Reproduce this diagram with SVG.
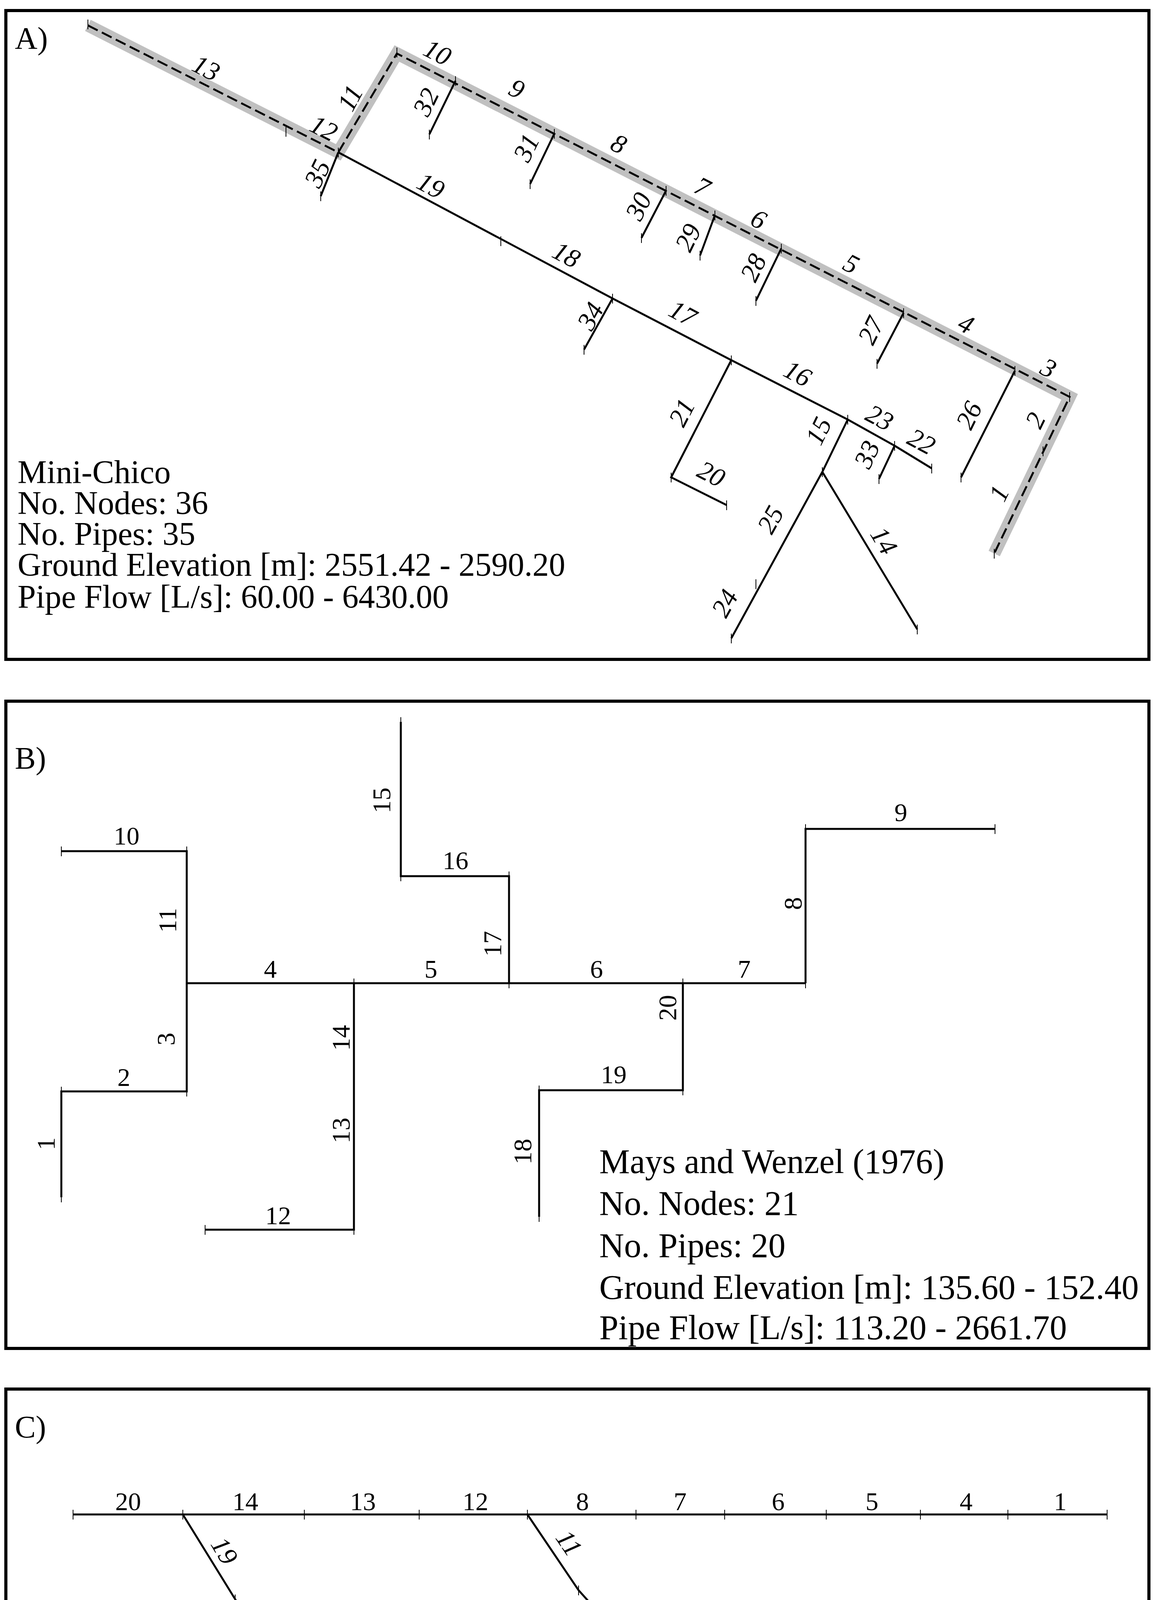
<svg xmlns="http://www.w3.org/2000/svg" width="2954" height="5242" viewBox="0 0 2954 5242">
<style>
.frame{fill:none;stroke:#000;stroke-width:8}
.p{fill:none;stroke:#000;stroke-width:5;stroke-linejoin:miter}
.hl{fill:none;stroke:#c0c0c0;stroke-width:32;stroke-linejoin:miter}
.d{fill:none;stroke:#000;stroke-width:5;stroke-dasharray:28 12}
.t{stroke:#000;stroke-width:2}
text{font-family:"Liberation Serif","Times New Roman",serif;fill:#000}
.l{font-size:68px;font-style:italic;text-anchor:middle;dominant-baseline:central}
.u{font-size:66px;text-anchor:middle;dominant-baseline:central}
.info{font-size:84px}
.hdr{font-size:80px}
</style>
<rect width="2954" height="5242" fill="#fff"/>
<rect class="frame" x="15" y="27" width="2926" height="1661"/>
<rect class="frame" x="15" y="1795" width="2926" height="1657"/>
<rect class="frame" x="15" y="3556" width="2926" height="1658"/>

<g id="connectors">
<polyline class="hl" points="225,65 866,390 1016,137 2738,1016 2545,1417"/>
<polyline class="d" points="225,65 866,390 1016,137 2738,1016 2545,1417"/>
<polyline class="p" points="866,390 1568,764 1872,922 2170,1074 2290,1141 2385,1199"/>
<line class="p" x1="1166" y1="207" x2="1099" y2="344"/>
<line class="p" x1="1419" y1="342" x2="1357" y2="471"/>
<line class="p" x1="866" y1="390" x2="821" y2="502"/>
<line class="p" x1="1705" y1="488" x2="1642" y2="609"/>
<line class="p" x1="1830" y1="551" x2="1792" y2="654"/>
<line class="p" x1="2000" y1="636" x2="1935" y2="770"/>
<line class="p" x1="2313" y1="801" x2="2245" y2="931"/>
<line class="p" x1="2598" y1="949" x2="2460" y2="1222"/>
<line class="p" x1="1568" y1="764" x2="1495" y2="895"/>
<polyline class="p" points="1872,922 1718,1222 1860,1293"/>
<line class="p" x1="2290" y1="1141" x2="2250" y2="1226"/>
<polyline class="p" points="2170,1074 2105,1208 1872,1634"/>
<line class="p" x1="2105" y1="1208" x2="2348" y2="1611"/>
<line class="p" x1="478" y1="2517" x2="2062" y2="2517"/>
<polyline class="p" points="157,2179 478,2179 478,2794 157,2794 157,3065"/>
<polyline class="p" points="906,2517 906,3148 525,3148"/>
<polyline class="p" points="1303,2517 1303,2243 1026,2243 1026,1848"/>
<polyline class="p" points="1748,2517 1748,2791 1380,2791 1380,3115"/>
<polyline class="p" points="2062,2517 2062,2122 2547,2122"/>
<line class="p" x1="187" y1="3877" x2="2834" y2="3877"/>
<polyline class="p" points="1350,3877 1481,4071 1634,4241 1935,4365 2243,4512"/>
<polyline class="p" points="468,3877 602,4094 739,4314 892,4575 1233,4772 1594,4936 1975,5107"/>
<path class="t" d="M225,50v25M732,325v25M866,378v25M1016,122v25M1166,195v25M1099,332v25M1419,330v25M1357,459v25M821,490v25M1282,605v25M1705,476v25M1642,597v25M1830,539v25M1792,642v25M2000,624v25M1935,758v25M2313,789v25M2245,919v25M2598,937v25M2460,1210v25M2738,1004v25M2670,1143v25M2545,1405v25M1568,752v25M1495,883v25M1872,910v25M1718,1210v25M1860,1281v25M2170,1062v25M2290,1129v25M2250,1214v25M2385,1187v25M2105,1196v25M1935,1483v25M1872,1622v25M2348,1599v25
M157,2167v25M478,2167v25M478,2505v25M478,2782v25M157,2782v25M157,3053v25M906,2505v25M906,2812v25M906,3136v25M525,3136v25M1303,2505v25M1303,2231v25M1026,2231v25M1026,1836v25M1748,2505v25M1748,2779v25M1380,2779v25M1380,3103v25M2062,2505v25M2062,2110v25M2547,2110v25
M187,3865v25M468,3865v25M779,3865v25M1073,3865v25M1350,3865v25M1628,3865v25M1855,3865v25M2115,3865v25M2356,3865v25M2580,3865v25M2834,3865v25M1481,4059v25M1634,4229v25M1935,4353v25M2243,4500v25M602,4082v25M739,4302v25M892,4563v25M1233,4760v25M1594,4924v25M1975,5095v25"/>
</g>

<g id="panelA">
<text class="hdr" x="38" y="125">A)</text>
<text class="l" transform="translate(528,174) rotate(27)">13</text>
<text class="l" transform="translate(829,328) rotate(27)">12</text>
<text class="l" transform="translate(896,251) rotate(-62)">11</text>
<text class="l" transform="translate(1120,134) rotate(27)">10</text>
<text class="l" transform="translate(1323,227) rotate(27)">9</text>
<text class="l" transform="translate(1584,368) rotate(27)">8</text>
<text class="l" transform="translate(1798,478) rotate(27)">7</text>
<text class="l" transform="translate(1942,561) rotate(27)">6</text>
<text class="l" transform="translate(2179,675) rotate(27)">5</text>
<text class="l" transform="translate(2473,829) rotate(27)">4</text>
<text class="l" transform="translate(2684,942) rotate(27)">3</text>
<text class="l" transform="translate(2650,1076) rotate(-64)">2</text>
<text class="l" transform="translate(2557,1263) rotate(-64)">1</text>
<text class="l" transform="translate(1090,261) rotate(-64)">32</text>
<text class="l" transform="translate(1347,378) rotate(-64)">31</text>
<text class="l" transform="translate(1634,528) rotate(-64)">30</text>
<text class="l" transform="translate(1761,608) rotate(-64)">29</text>
<text class="l" transform="translate(1928,685) rotate(-64)">28</text>
<text class="l" transform="translate(2229,846) rotate(-64)">27</text>
<text class="l" transform="translate(2480,1063) rotate(-64)">26</text>
<text class="l" transform="translate(812,444) rotate(-64)">35</text>
<text class="l" transform="translate(1103,475) rotate(28)">19</text>
<text class="l" transform="translate(1450,652) rotate(28)">18</text>
<text class="l" transform="translate(1511,809) rotate(-61)">34</text>
<text class="l" transform="translate(1748,802) rotate(28)">17</text>
<text class="l" transform="translate(2042,956) rotate(28)">16</text>
<text class="l" transform="translate(1745,1056) rotate(-63)">21</text>
<text class="l" transform="translate(1821,1213) rotate(27)">20</text>
<text class="l" transform="translate(2252,1069) rotate(28)">23</text>
<text class="l" transform="translate(2359,1130) rotate(28)">22</text>
<text class="l" transform="translate(2219,1163) rotate(-65)">33</text>
<text class="l" transform="translate(2095,1103) rotate(-64)">15</text>
<text class="l" transform="translate(1972,1330) rotate(-61)">25</text>
<text class="l" transform="translate(2263,1384) rotate(59)">14</text>
<text class="l" transform="translate(1855,1544) rotate(-61)">24</text>
<text class="info" x="45" y="1237">Mini-Chico</text>
<text class="info" x="45" y="1316">No. Nodes: 36</text>
<text class="info" x="45" y="1395">No. Pipes: 35</text>
<text class="info" x="45" y="1474">Ground Elevation [m]: 2551.42 - 2590.20</text>
<text class="info" x="45" y="1556">Pipe Flow [L/s]: 60.00 - 6430.00</text>
</g>

<g id="panelB">
<text class="hdr" x="38" y="1968">B)</text>
<text class="u" x="324" y="2139">10</text>
<text class="u" transform="translate(428,2356) rotate(-90)">11</text>
<text class="u" x="692" y="2480">4</text>
<text class="u" x="1103" y="2480">5</text>
<text class="u" x="1527" y="2480">6</text>
<text class="u" x="1905" y="2480">7</text>
<text class="u" transform="translate(2029,2313) rotate(-90)">8</text>
<text class="u" x="2306" y="2079">9</text>
<text class="u" transform="translate(424,2660) rotate(-90)">3</text>
<text class="u" x="317" y="2757">2</text>
<text class="u" transform="translate(117,2928) rotate(-90)">1</text>
<text class="u" transform="translate(872,2657) rotate(-90)">14</text>
<text class="u" transform="translate(872,2894) rotate(-90)">13</text>
<text class="u" x="712" y="3111">12</text>
<text class="u" transform="translate(976,2049) rotate(-90)">15</text>
<text class="u" x="1166" y="2202">16</text>
<text class="u" transform="translate(1260,2416) rotate(-90)">17</text>
<text class="u" transform="translate(1708,2580) rotate(-90)">20</text>
<text class="u" x="1571" y="2750">19</text>
<text class="u" transform="translate(1337,2948) rotate(-90)">18</text>
<text class="info" x="1534" y="3003" style="font-size:88px">Mays and Wenzel (1976)</text>
<text class="info" x="1534" y="3110" style="font-size:88px">No. Nodes: 21</text>
<text class="info" x="1534" y="3218" style="font-size:88px">No. Pipes: 20</text>
<text class="info" x="1534" y="3325" style="font-size:88px">Ground Elevation [m]: 135.60 - 152.40</text>
<text class="info" x="1534" y="3428" style="font-size:88px">Pipe Flow [L/s]: 113.20 - 2661.70</text>
</g>

<g id="panelC">
<text class="hdr" x="38" y="3680">C)</text>
<text class="u" x="328" y="3843">20</text>
<text class="u" x="628" y="3843">14</text>
<text class="u" x="929" y="3843">13</text>
<text class="u" x="1217" y="3843">12</text>
<text class="u" x="1491" y="3843">8</text>
<text class="u" x="1741" y="3843">7</text>
<text class="u" x="1992" y="3843">6</text>
<text class="u" x="2232" y="3843">5</text>
<text class="u" x="2473" y="3843">4</text>
<text class="u" x="2714" y="3843">1</text>
<text class="l" transform="translate(1457,3950) rotate(56)">11</text>
<text class="l" transform="translate(1597,4131) rotate(48)">10</text>
<text class="l" transform="translate(1808,4264) rotate(24)">9</text>
<text class="l" transform="translate(2109,4398) rotate(24)">2</text>
<text class="l" transform="translate(575,3970) rotate(59)">19</text>
<text class="l" transform="translate(705,4184) rotate(59)">18</text>
<text class="l" transform="translate(859,4435) rotate(59)">17</text>
<text class="l" transform="translate(1086,4639) rotate(26)">16</text>
<text class="l" transform="translate(1437,4822) rotate(26)">15</text>
<text class="l" transform="translate(1808,4986) rotate(26)">3</text>
<text class="info" x="45" y="4755" style="font-size:88px">Kerman city</text>
<text class="info" x="45" y="4857" style="font-size:88px">No. Nodes: 21</text>
<text class="info" x="45" y="4958" style="font-size:88px">No. Pipes: 20</text>
<text class="info" x="45" y="5062" style="font-size:88px">Ground Elevation [m]: 64.50 - 74.60</text>
<text class="info" x="45" y="5165" style="font-size:88px">Pipe Flow [L/s]: 21.10 - 165.90</text>
</g>
</svg>
